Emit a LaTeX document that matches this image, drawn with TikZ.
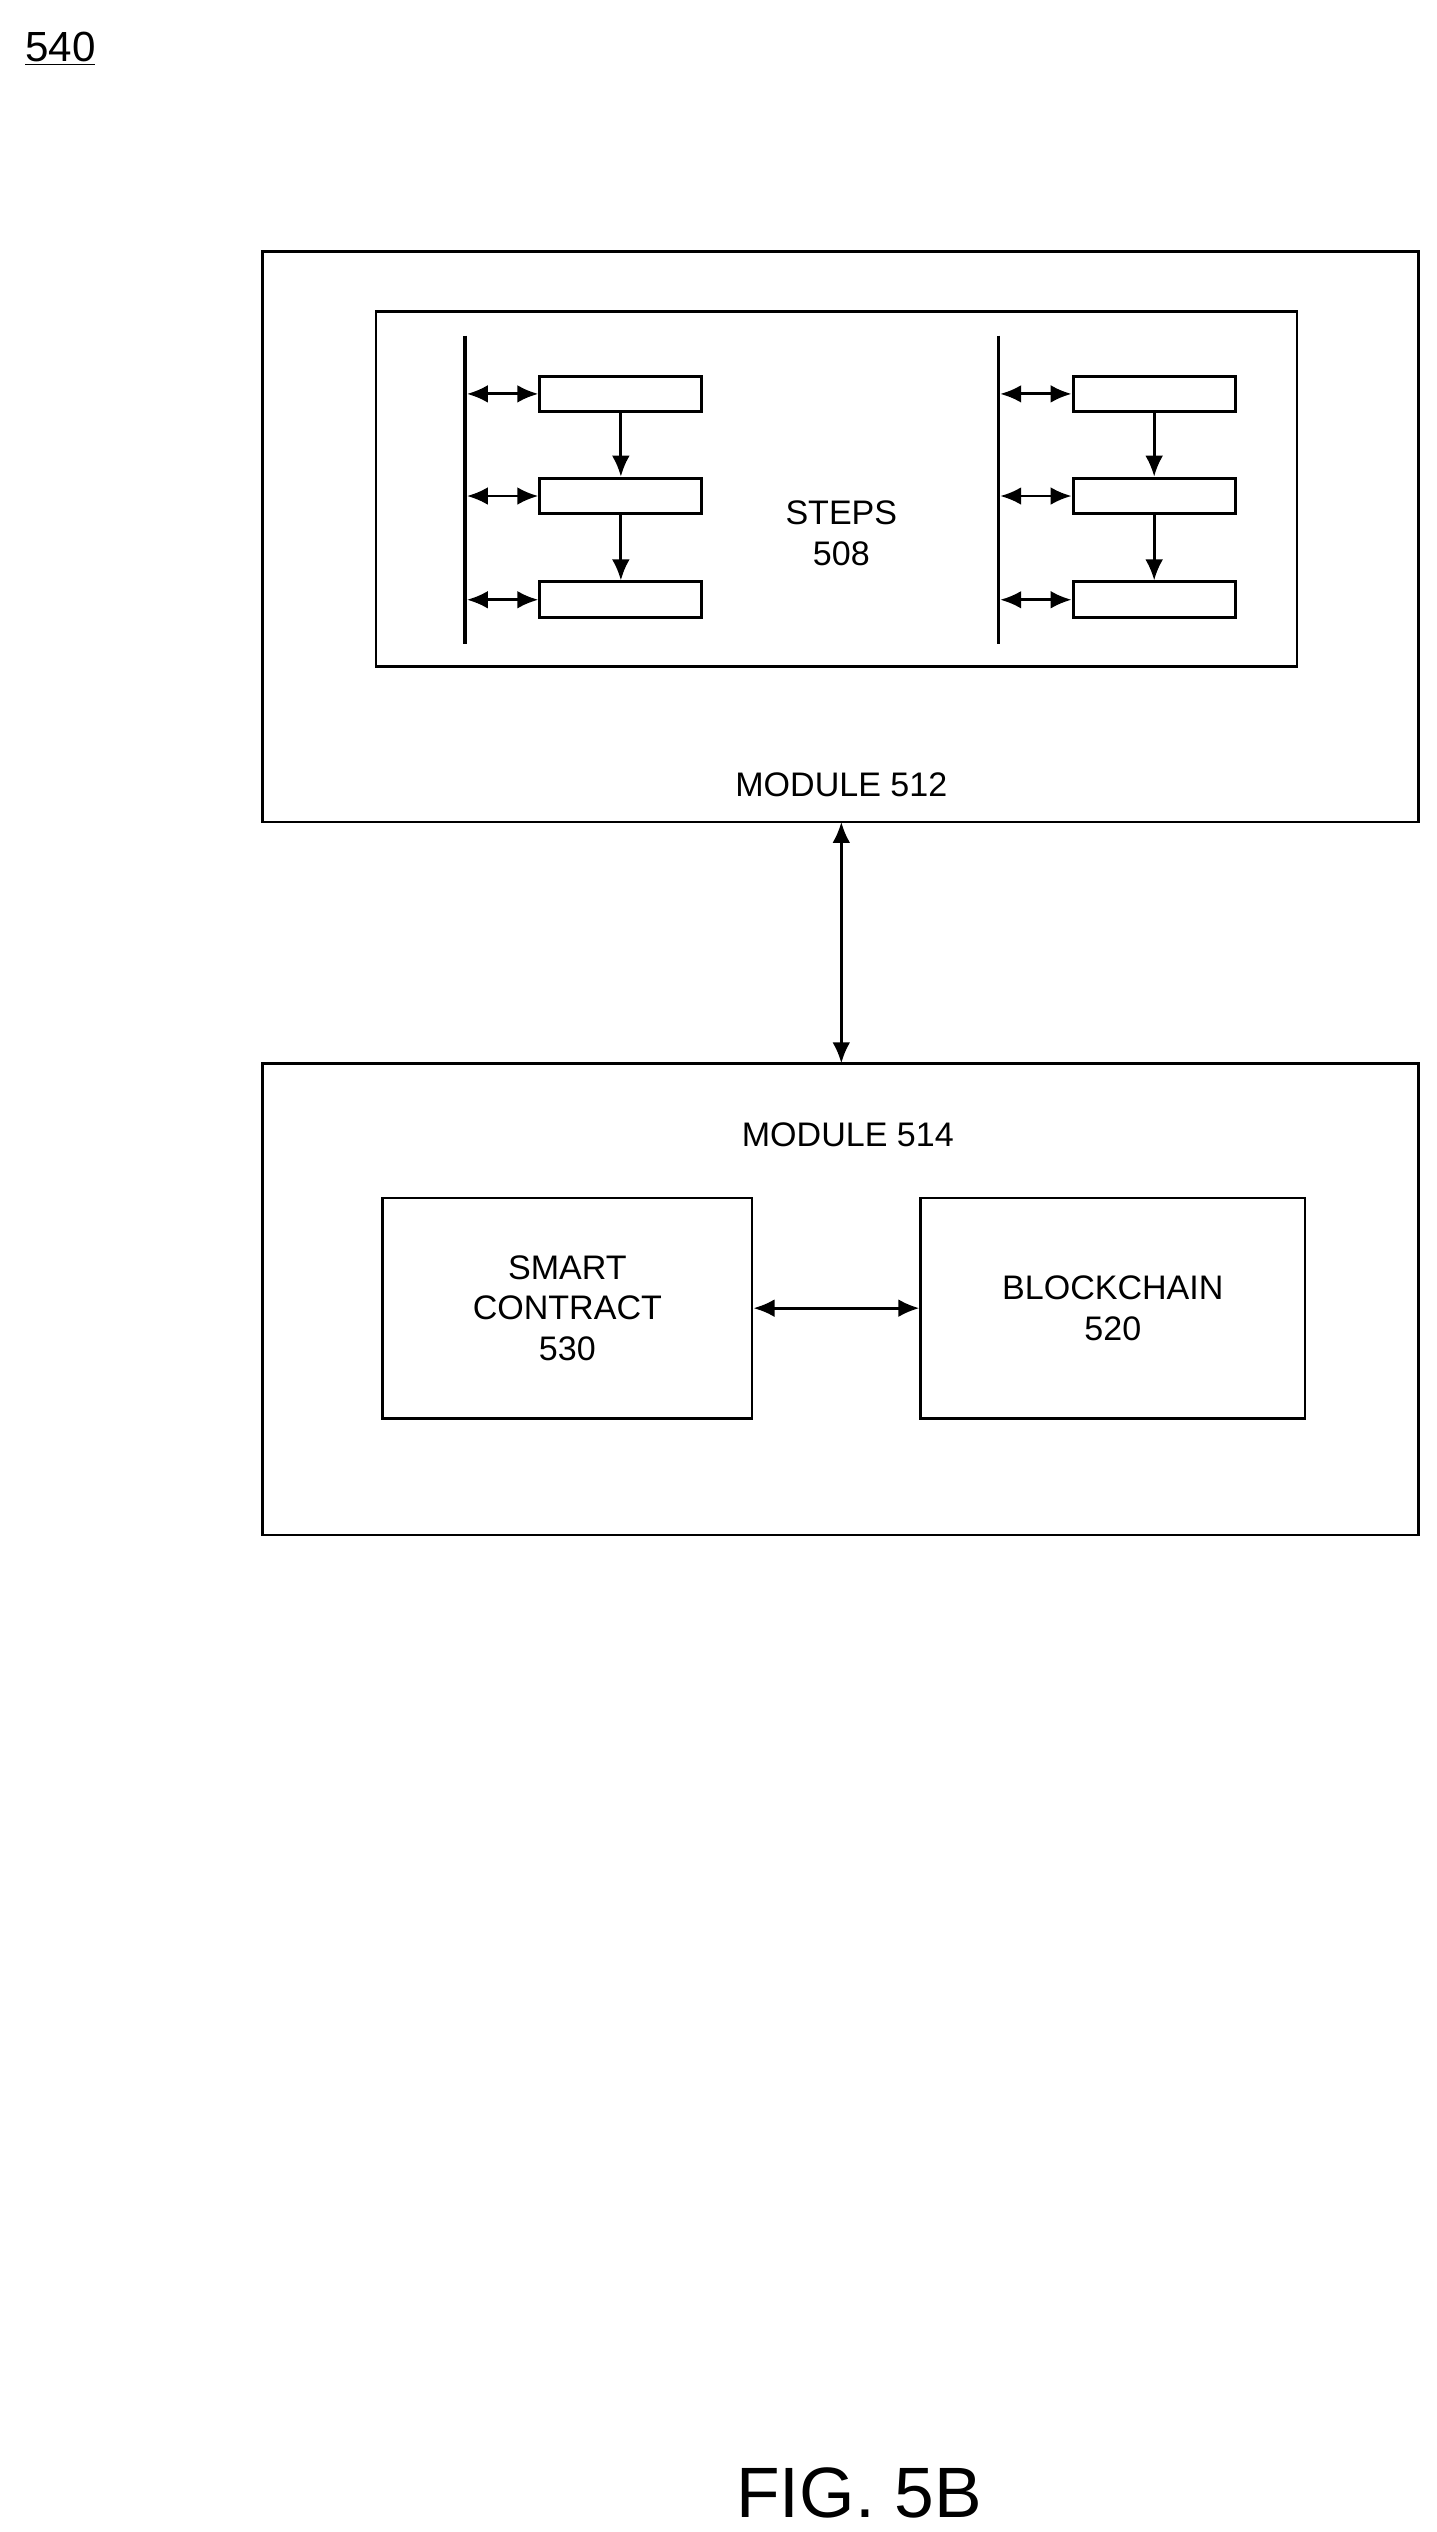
\documentclass[tikz,border=0pt]{standalone}
\usepackage{fontspec}
\setmainfont{Liberation Sans}
\usetikzlibrary{arrows.meta}
\begin{document}
\begin{tikzpicture}[x=1pt,y=-1pt,
  box/.style={draw,line width=1.6pt},
  sb/.style={draw,line width=1.8pt,minimum width=100pt,minimum height=22pt,inner sep=0pt},
  lab/.style={font=\fontsize{21}{25}\selectfont,align=center},
  arr/.style={line width=1.8pt,-{Latex[length=13pt,width=11pt]}},
  darr/.style={line width=1.8pt,{Latex[length=13pt,width=11pt]}-{Latex[length=13pt,width=11pt]}}]
\useasboundingbox (0,0) rectangle (886,1562);
\node[anchor=base west,font=\fontsize{26}{30}\selectfont] (n540) at (12,38) {\underline{540}};
\draw[box] (162,155) rectangle (875,507);
\draw[box] (232,192) rectangle (800,411);
\node[lab] (steps) at (519,329) {STEPS\\508};
\node[lab] (m512) at (519,484) {MODULE 512};
\coordinate (m512b) at (519,507);
\coordinate (m514t) at (519,656);
\foreach \side/\lx/\bx in {L/287/383, R/616/712}{
  \draw[line width=2.2pt] (\lx,207) coordinate (\side top) -- (\lx,397) coordinate (\side bot);
  \foreach \i/\y in {1/243,2/306,3/370}{
    \node[sb] (\side\i) at (\bx,\y) {};
    \coordinate (\side c\i) at (\lx+1,\y);
    \draw[darr] (\side c\i) -- (\side\i.west);
  }
  \draw[arr] (\side1) -- (\side2);
  \draw[arr] (\side2) -- (\side3);
}
\draw[darr] (m512b) -- (m514t);
\draw[box] (162,656) rectangle (875,947);
\node[lab] (m514) at (523,700) {MODULE 514};
\node[box,lab,minimum width=228pt,minimum height=136pt] (sc) at (350,807) {SMART\\CONTRACT\\530};
\node[box,lab,minimum width=237pt,minimum height=136pt] (bc) at (686.5,807) {BLOCKCHAIN\\520};
\draw[darr] (sc) -- (bc);
\node[font=\fontsize{44}{50}\selectfont] (fig) at (530,1538) {FIG. 5B};
\end{tikzpicture}
\end{document}
